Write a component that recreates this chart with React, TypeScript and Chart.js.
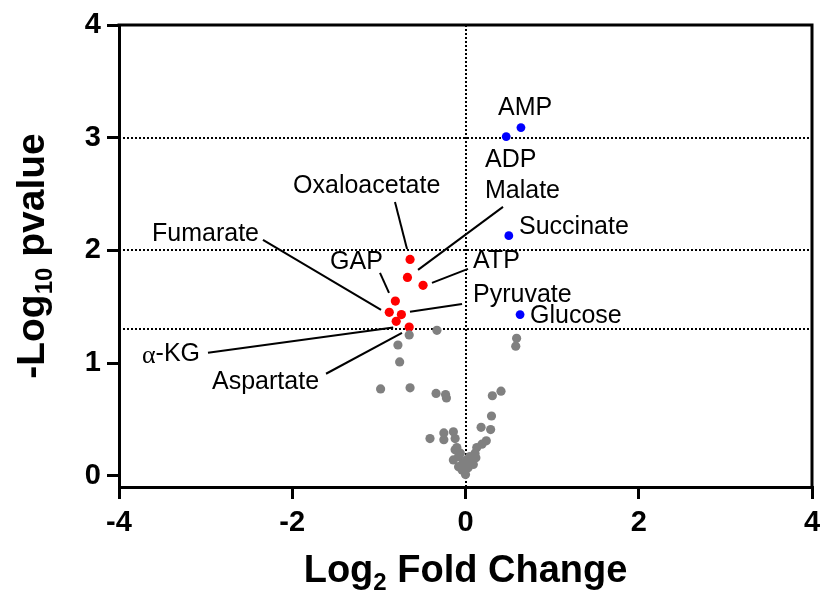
import React, { useEffect, useRef } from 'react';
import { Chart, registerables } from 'chart.js';
Chart.register(...registerables);

const FONT = '"Liberation Sans", Arial, Helvetica, sans-serif';
const SERIF = '"Liberation Serif", "Times New Roman", serif';

const xTicks = [-4, -2, 0, 2, 4];
const yTicks = [0, 1, 2, 3, 4];
const thresholds = [3, 2, 1.3];

// significantly up (blue)
const upNames = ['AMP', 'ADP', 'Succinate', 'Glucose'];
const upX = [0.64, 0.47, 0.5, 0.63];
const upY = [3.09, 3.01, 2.13, 1.43];

// significantly down (red)
const downNames = ['Oxaloacetate', 'Malate', 'ATP', 'GAP', 'Fumarate', 'Pyruvate', 'α-KG', 'Aspartate'];
const downX = [-0.64, -0.67, -0.49, -0.81, -0.88, -0.74, -0.8, -0.65];
const downY = [1.92, 1.76, 1.69, 1.55, 1.45, 1.43, 1.37, 1.32];

// not significant (grey)
const nsX = [-0.65, -0.33, -0.78, -0.76, -0.98, -0.64, -0.34, -0.23, -0.22, 0.31, 0.41, 0.3, 0.18, 0.29, -0.41, -0.25, -0.14, -0.25, -0.12, 0.24, 0.19, 0.13, -0.1, 0.11, -0.14, -0.08, 0.07, 0.09, -0.08, -0.04, 0.03, 0.0, -0.03, 0.01, -0.06, -0.12, 0.05, 0.12, 0.59, 0.58];
const nsY = [1.25, 1.29, 1.16, 1.01, 0.77, 0.78, 0.73, 0.72, 0.69, 0.71, 0.75, 0.53, 0.43, 0.41, 0.33, 0.38, 0.39, 0.32, 0.33, 0.31, 0.28, 0.25, 0.25, 0.2, 0.14, 0.17, 0.14, 0.1, 0.08, 0.05, 0.07, 0.01, 0.11, 0.14, 0.2, 0.23, 0.17, 0.16, 1.22, 1.15];

// label layout (data coordinates): text anchor (left, middle) and optional leader line
type Lbl = { name: string; at: [number, number]; from?: [number, number]; to?: [number, number] };
const labelLayout: Lbl[] = [
  { name: 'AMP', at: [0.375, 3.264] },
  { name: 'ADP', at: [0.225, 2.803] },
  { name: 'Malate', at: [0.225, 2.523], from: [0.433, 2.386], to: [-0.548, 1.827] },
  { name: 'Succinate', at: [0.618, 2.208] },
  { name: 'Glucose', at: [0.745, 1.419] },
  { name: 'ATP', at: [0.087, 1.907], from: [0.029, 1.836], to: [-0.387, 1.712] },
  { name: 'Pyruvate', at: [0.087, 1.605], from: [-0.04, 1.525], to: [-0.641, 1.455] },
  { name: 'Oxaloacetate', at: [-1.991, 2.572], from: [-0.814, 2.43], to: [-0.675, 2.013] },
  { name: 'GAP', at: [-1.564, 1.898], from: [-0.987, 1.8], to: [-0.883, 1.623] },
  { name: 'Fumarate', at: [-3.619, 2.146], from: [-2.338, 2.093], to: [-0.975, 1.472] },
  { name: 'α-KG', at: [-3.735, 1.082], from: [-2.973, 1.091], to: [-0.835, 1.316] },
  { name: 'Aspartate', at: [-2.926, 0.834], from: [-1.61, 0.905], to: [-0.733, 1.268] },
];

const xTitle = [{ t: 'Log' }, { t: '2', sub: true }, { t: ' Fold Change' }];
const yTitle = [{ t: '-Log' }, { t: '10', sub: true }, { t: ' pvalue' }];

function drawParts(ctx: CanvasRenderingContext2D, parts: { t: string; sub?: boolean }[], size: number, cx: number, base: number) {
  const f = (p: { sub?: boolean }) => `bold ${p.sub ? Math.round(size * 0.62) : size}px ${FONT}`;
  let total = 0;
  for (const p of parts) {
    ctx.font = f(p);
    total += ctx.measureText(p.t).width;
  }
  let x = cx - total / 2;
  ctx.textAlign = 'left';
  ctx.textBaseline = 'alphabetic';
  for (const p of parts) {
    ctx.font = f(p);
    ctx.fillText(p.t, x, p.sub ? base + size * 0.2 : base);
    x += ctx.measureText(p.t).width;
  }
}

const annot = {
  id: 'annot',
  beforeDatasetsDraw(chart: any) {
    const { ctx, chartArea: a, scales } = chart;
    const xs = scales.x, ys = scales.y;
    ctx.save();
    ctx.strokeStyle = '#000';
    ctx.lineWidth = 2;
    ctx.setLineDash([2, 2]);
    for (const v of thresholds) {
      const py = Math.round(ys.getPixelForValue(v));
      ctx.beginPath();
      ctx.moveTo(a.left, py);
      ctx.lineTo(a.right, py);
      ctx.stroke();
    }
    const px = Math.round(xs.getPixelForValue(0));
    ctx.beginPath();
    ctx.moveTo(px, a.top);
    ctx.lineTo(px, a.bottom);
    ctx.stroke();
    ctx.restore();
  },
  afterDatasetsDraw(chart: any) {
    const { ctx, chartArea: a, scales } = chart;
    const xs = scales.x, ys = scales.y;
    ctx.save();
    // frame top / right
    ctx.strokeStyle = '#000';
    ctx.lineWidth = 3;
    ctx.beginPath();
    ctx.moveTo(a.left - 1.5, a.top);
    ctx.lineTo(a.right, a.top);
    ctx.lineTo(a.right, a.bottom);
    ctx.stroke();
    // leader lines
    ctx.lineWidth = 2;
    for (const l of labelLayout) {
      if (!l.from || !l.to) continue;
      ctx.beginPath();
      ctx.moveTo(xs.getPixelForValue(l.from[0]), ys.getPixelForValue(l.from[1]));
      ctx.lineTo(xs.getPixelForValue(l.to[0]), ys.getPixelForValue(l.to[1]));
      ctx.stroke();
    }
    // labels
    ctx.fillStyle = '#000';
    ctx.textBaseline = 'middle';
    ctx.textAlign = 'left';
    for (const l of labelLayout) {
      let x = xs.getPixelForValue(l.at[0]);
      const y = ys.getPixelForValue(l.at[1]);
      let text = l.name;
      if (text.startsWith('α')) {
        ctx.font = `26px ${SERIF}`;
        ctx.fillText('α', x, y + 2);
        x += ctx.measureText('α').width;
        text = text.slice(1);
      }
      ctx.font = `25px ${FONT}`;
      ctx.fillText(text, x, y);
    }
    // axis titles
    drawParts(ctx, xTitle, 38, (a.left + a.right) / 2, 582);
    ctx.translate(44, (a.top + a.bottom) / 2);
    ctx.rotate(-Math.PI / 2);
    drawParts(ctx, yTitle, 39, 0, 0);
    ctx.restore();
  },
};

export default function App() {
  const ref = useRef<HTMLCanvasElement>(null);
  useEffect(() => {
    document.body.style.margin = '0';
    const pts = (xs: number[], ys: number[]) => xs.map((x, i) => ({ x, y: ys[i] }));
    const chart = new Chart(ref.current!, {
      type: 'scatter',
      data: {
        datasets: [
          { label: 'ns', data: pts(nsX, nsY), backgroundColor: '#808080', borderWidth: 0, pointRadius: 4.6 },
          { label: 'down', data: pts(downX, downY), backgroundColor: '#ff0000', borderWidth: 0, pointRadius: 4.6 },
          { label: 'up', data: pts(upX, upY), backgroundColor: '#0000ff', borderWidth: 0, pointRadius: 4.4 },
        ],
      },
      options: {
        animation: false,
        responsive: false,
        maintainAspectRatio: false,
        layout: { padding: { top: 25, right: 9, left: 0, bottom: 0 }, autoPadding: false },
        plugins: { legend: { display: false }, tooltip: { enabled: false } },
        scales: {
          x: {
            type: 'linear',
            min: -4,
            max: 4,
            afterBuildTicks: (s: any) => { s.ticks = xTicks.map((v) => ({ value: v })); },
            afterFit: (s: any) => { s.height = 105; s.paddingLeft = 0; s.paddingRight = 0; },
            ticks: { color: '#000', font: { family: FONT, weight: 'bold', size: 29 }, padding: 7 },
            grid: { drawOnChartArea: false, drawTicks: true, tickLength: 12, lineWidth: 3, color: '#000' },
            border: { width: 3, color: '#000' },
          },
          y: {
            type: 'linear',
            min: -0.1,
            max: 4,
            afterBuildTicks: (s: any) => { s.ticks = yTicks.map((v) => ({ value: v })); },
            afterFit: (s: any) => { s.width = 119; s.paddingTop = 0; s.paddingBottom = 0; },
            ticks: { color: '#000', font: { family: FONT, weight: 'bold', size: 29 }, padding: 6 },
            grid: { drawOnChartArea: false, drawTicks: true, tickLength: 12, lineWidth: 3, color: '#000' },
            border: { width: 3, color: '#000' },
          },
        },
      },
      plugins: [annot],
    } as any);
    return () => chart.destroy();
  }, []);
  return (
    <div style={{ position: 'absolute', left: 0, top: 0, width: 821, height: 592, background: '#fff' }}>
      <canvas ref={ref} width={821} height={592} style={{ display: 'block', width: 821, height: 592 }} />
    </div>
  );
}
